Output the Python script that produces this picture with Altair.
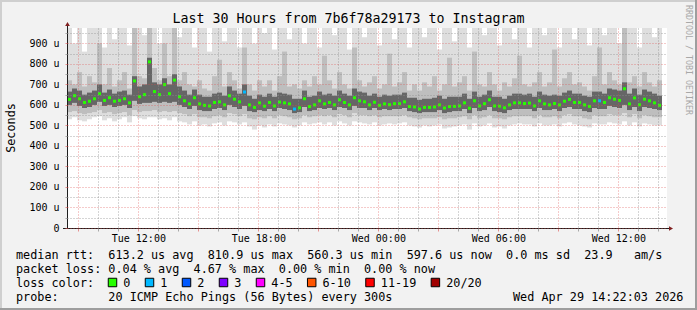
import altair as alt
import pandas as pd
from datetime import datetime, timedelta, timezone

# ---------------- data (values in microseconds, one entry per 15-minute step) ----------------
median_us = [627, 645, 630, 612, 618, 630, 655, 622, 635, 618,
             622, 630, 610, 717, 640, 650, 810, 665, 650, 699,
             655, 721, 640, 620, 605, 635, 605, 598, 595, 612,
             615, 600, 645, 628, 615, 663, 600, 588, 610, 594,
             612, 595, 614, 610, 605, 580, 586, 630, 592, 600,
             620, 605, 612, 600, 625, 612, 600, 635, 620, 615,
             600, 613, 598, 605, 601, 606, 606, 615, 592, 590,
             580, 588, 588, 590, 600, 585, 592, 593, 595, 610,
             584, 620, 595, 606, 625, 595, 594, 586, 600, 610,
             610, 607, 609, 595, 620, 605, 600, 607, 600, 618,
             627, 612, 612, 600, 593, 620, 620, 612, 635, 628,
             622, 679, 605, 634, 601, 628, 620, 610, 598]

max_us = [975, 900, 975, 860, 975, 975, 975, 880, 975, 920,
          975, 975, 890, 975, 975, 940, 975, 975, 900, 975,
          975, 975, 930, 975, 975, 880, 975, 975, 860, 975,
          975, 910, 975, 975, 880, 975, 975, 900, 975, 950,
          975, 870, 975, 975, 920, 975, 975, 900, 975, 975,
          880, 975, 975, 940, 975, 975, 870, 975, 975, 930,
          975, 975, 890, 975, 975, 920, 975, 975, 880, 975,
          975, 930, 975, 975, 870, 975, 975, 910, 975, 975,
          880, 975, 975, 940, 975, 975, 890, 975, 975, 920,
          975, 975, 880, 975, 975, 940, 975, 975, 880, 975,
          975, 920, 975, 975, 890, 975, 975, 940, 975, 975,
          900, 975, 975, 975, 880, 975, 975, 930, 975]

upper_mid_us = [720, 700, 760, 690, 740, 710, 900, 700, 780, 690,
                720, 760, 680, 975, 740, 730, 975, 780, 720, 900,
                740, 975, 720, 760, 700, 690, 720, 680, 670, 740,
                820, 690, 760, 720, 680, 880, 700, 670, 720, 690,
                720, 670, 740, 860, 690, 700, 680, 720, 690, 740,
                700, 840, 720, 680, 760, 700, 680, 880, 720, 690,
                710, 740, 680, 700, 850, 690, 710, 760, 670, 700,
                670, 710, 690, 740, 670, 700, 830, 690, 710, 740,
                670, 860, 700, 690, 760, 700, 670, 710, 690, 730,
                840, 700, 690, 710, 760, 690, 710, 870, 690, 730,
                760, 700, 710, 690, 670, 740, 880, 700, 760, 720,
                700, 975, 710, 740, 690, 760, 710, 690, 720]

upper_core_us = [665, 680, 670, 650, 660, 670, 700, 660, 675, 655,
                 665, 670, 650, 740, 690, 700, 830, 710, 700, 730,
                 700, 750, 690, 670, 650, 675, 650, 640, 640, 655,
                 660, 645, 690, 670, 655, 700, 645, 630, 650, 640,
                 655, 640, 660, 655, 650, 630, 630, 670, 640, 645,
                 665, 650, 655, 645, 670, 655, 645, 680, 665, 660,
                 645, 655, 640, 650, 645, 650, 650, 660, 635, 635,
                 625, 630, 630, 635, 645, 630, 640, 640, 640, 655,
                 630, 665, 640, 650, 670, 640, 640, 630, 645, 655,
                 655, 650, 655, 640, 665, 650, 645, 650, 645, 660,
                 670, 655, 655, 645, 640, 665, 665, 655, 680, 675,
                 670, 710, 655, 680, 650, 675, 665, 655, 645]

lower_core_us = [600, 610, 595, 585, 590, 600, 615, 595, 600, 590,
                 595, 600, 585, 620, 605, 610, 610, 615, 610, 615,
                 610, 615, 600, 590, 580, 595, 575, 570, 570, 580,
                 585, 575, 600, 590, 580, 595, 570, 565, 575, 570,
                 580, 570, 585, 580, 575, 560, 565, 590, 570, 575,
                 585, 580, 585, 575, 590, 585, 575, 595, 585, 585,
                 575, 585, 575, 580, 575, 580, 580, 585, 570, 565,
                 560, 565, 565, 565, 575, 560, 565, 570, 570, 580,
                 560, 585, 570, 575, 590, 570, 565, 560, 575, 580,
                 580, 580, 580, 570, 585, 575, 575, 580, 570, 585,
                 590, 580, 580, 570, 565, 585, 580, 580, 595, 590,
                 585, 600, 575, 590, 570, 590, 585, 580, 575]

lower_mid_us = [565, 570, 560, 555, 560, 565, 575, 560, 565, 555,
                560, 565, 550, 575, 565, 570, 570, 575, 565, 570,
                565, 570, 560, 555, 545, 555, 540, 540, 535, 545,
                550, 540, 560, 555, 545, 555, 535, 530, 540, 535,
                545, 535, 550, 545, 540, 530, 535, 550, 540, 545,
                550, 545, 550, 540, 555, 550, 540, 560, 550, 550,
                545, 550, 540, 545, 545, 545, 545, 550, 540, 535,
                530, 535, 535, 535, 540, 530, 535, 535, 540, 545,
                530, 550, 535, 540, 550, 535, 535, 530, 540, 545,
                545, 545, 545, 535, 550, 540, 540, 545, 535, 550,
                555, 545, 545, 535, 530, 550, 545, 545, 555, 550,
                550, 560, 540, 555, 535, 550, 545, 540, 540]

min_us = [530, 540, 525, 520, 530, 540, 545, 525, 535, 520,
          530, 540, 515, 545, 535, 530, 540, 540, 530, 535,
          525, 540, 520, 515, 505, 520, 500, 505, 495, 510,
          515, 500, 520, 515, 505, 515, 495, 480, 500, 490,
          505, 495, 510, 505, 500, 490, 500, 515, 505, 510,
          515, 505, 515, 500, 520, 510, 500, 520, 515, 510,
          505, 515, 500, 505, 510, 505, 510, 515, 500, 495,
          490, 500, 495, 500, 505, 485, 490, 495, 500, 505,
          480, 510, 495, 500, 510, 490, 495, 485, 500, 505,
          510, 505, 505, 495, 510, 500, 500, 505, 495, 510,
          515, 505, 500, 495, 490, 510, 505, 505, 515, 510,
          505, 520, 500, 515, 495, 510, 505, 500, 500]

# steps where one of the 20 pings was lost
loss_steps = {35: "1", 45: "1", 106: "1"}

loss_labels = ["0", "1", "2", "3", "4-5", "6-10", "11-19", "20/20"]
loss_colors = ["#26ff00", "#00b8ff", "#0059ff", "#7e00ff", "#ff00ff", "#ff5500", "#ff0000", "#a00000"]

title_text = "Last 30 Hours from 7b6f78a29173 to Instagram"
stats_rtt = "median rtt:  613.2 us avg  810.9 us max  560.3 us min  597.6 us now  0.0 ms sd  23.9   am/s"
stats_loss = "packet loss: 0.04 % avg  4.67 % max  0.00 % min  0.00 % now"
probe_text = "probe:       20 ICMP Echo Pings (56 Bytes) every 300s"
stamp_text = "Wed Apr 29 14:22:03 2026"
y_title = "Seconds"
watermark = "RRDTOOL / TOBI OETIKER"

# ---------------- build table ----------------
UTC = timezone.utc
START = datetime(2026, 4, 28, 8, 26, tzinfo=UTC)
STEP = timedelta(minutes=15)


def ms(d):
    return int(d.timestamp() * 1000)


n = len(median_us)
df = pd.DataFrame({
    "t0": [ms(START + i * STEP) for i in range(n)],
    "t1": [ms(START + (i + 1) * STEP) for i in range(n)],
    "tm": [ms(START + i * STEP + STEP / 2) for i in range(n)],
    "med": median_us,
    "mx": max_us,
    "umid": upper_mid_us,
    "ucore": upper_core_us,
    "lcore": lower_core_us,
    "lmid": lower_mid_us,
    "mn": min_us,
    "loss": [loss_steps.get(i, "0") for i in range(n)],
})

hour_ticks = [ms(datetime(2026, 4, 28, 9, tzinfo=UTC) + timedelta(hours=h)) for h in range(30)]
y_ticks = list(range(0, 951, 50))

MONO = "DejaVu Sans Mono"
MAJ = "rgba(222,79,79,0.6)"
MINC = "rgba(143,143,143,0.75)"
AXIS = "#1f1f1f"
ARROW = "#801f1f"

x_scale = alt.Scale(type="utc", domain=[ms(START), ms(START + timedelta(hours=30))])
y_scale = alt.Scale(domain=[0, 975], nice=False, zero=True)

x_cond = {"condition": {"test": "utchours(datum.value) % 3 === 0", "value": MAJ}, "value": MINC}
y_cond = {"condition": {"test": "datum.value % 100 === 0", "value": MAJ}, "value": MINC}

x_axis = alt.Axis(
    values=hour_ticks,
    labelExpr="utchours(datum.value) % 6 === 0 ? utcFormat(datum.value, '%a %H:%M') : ''",
    title=None, domain=False, grid=True, gridColor=x_cond, gridDash=[1, 2], gridWidth=1,
    ticks=True, tickSize=3, tickColor=x_cond, labelFont=MONO, labelFontSize=10,
    labelColor="#000000", labelPadding=2, labelOverlap=False, labelFlush=False, labelAngle=0,
    zindex=1,
)
y_axis = alt.Axis(
    values=y_ticks,
    labelExpr="datum.value % 100 === 0 ? (datum.value === 0 ? '0\u00a0\u00a0' : datum.value + '\u00a0u') : ''",
    title=None, domain=False, grid=True, gridColor=y_cond, gridDash=[1, 2], gridWidth=1,
    ticks=True, tickSize=2, tickColor=y_cond, labelFont=MONO, labelFontSize=10,
    labelColor="#000000", labelPadding=6, labelOverlap=False, labelFlush=False,
    zindex=1,
)

base = alt.Chart(df)


def smoke(lo, hi, color):
    return base.mark_rect(color=color, clip=True).encode(
        x=alt.X("t0:T", scale=x_scale, axis=x_axis),
        x2="t1:T",
        y=alt.Y(f"{lo}:Q", scale=y_scale, axis=y_axis),
        y2=f"{hi}:Q",
    )


smoke_outer = smoke("mn", "mx", "#dedede")
smoke_mid = smoke("lmid", "umid", "#bebebe")
smoke_core = smoke("lcore", "ucore", "#666666")

median_marks = base.mark_tick(orient="horizontal", size=3, thickness=3, opacity=1, clip=True).encode(
    x=alt.X("tm:T", scale=x_scale, axis=x_axis),
    y=alt.Y("med:Q", scale=y_scale, axis=y_axis),
    color=alt.Color("loss:N", scale=alt.Scale(domain=loss_labels, range=loss_colors), legend=None),
)

# ---------------- decorations (pixel layout relative to plot origin at 67,28) ----------------
one = pd.DataFrame({"k": [0]})
OX, OY = 67, 28


def text(s, ax, ay, size, align="left", angle=None, color="#000000"):
    kw = dict(text=s.replace(" ", "\u00a0"), font=MONO, fontSize=size, align=align,
              baseline="middle", color=color)
    if angle:
        kw["angle"] = angle
    return alt.Chart(one).mark_text(**kw).encode(x=alt.value(ax - OX), y=alt.value(ay - OY))


def hline(ax1, ax2, ay, color, w=1):
    return alt.Chart(one).mark_rule(color=color, strokeWidth=w).encode(
        x=alt.value(ax1 - OX), x2=alt.value(ax2 - OX), y=alt.value(ay - OY))


def vline(ax, ay1, ay2, color, w=1):
    return alt.Chart(one).mark_rule(color=color, strokeWidth=w).encode(
        x=alt.value(ax - OX), y=alt.value(ay1 - OY), y2=alt.value(ay2 - OY))


def marker(shape, ax, ay, color, size, stroke=None):
    kw = dict(shape=shape, filled=True, fill=color, size=size, opacity=1)
    if stroke:
        kw.update(stroke=stroke, strokeWidth=1)
    else:
        kw.update(strokeWidth=0)
    return alt.Chart(one).mark_point(**kw).encode(x=alt.value(ax - OX), y=alt.value(ay - OY))


deco = [
    # 3D frame
    hline(0, 697, 1, "#cfcfcf", 2),
    vline(1, 0, 310, "#cfcfcf", 2),
    hline(0, 697, 309, "#9e9e9e", 2),
    vline(696, 0, 310, "#9e9e9e", 2),
    # axes and arrows
    vline(67.5, 228, 24, AXIS, 1),
    hline(63, 671, 228.5, AXIS, 1),
    marker("triangle-up", 67.5, 24, ARROW, 22),
    marker("triangle-right", 671, 228.5, ARROW, 22),
    # texts
    text(title_text, 348.5, 19, 13.3, align="center"),
    text(y_title, 11, 128, 11.8, align="center", angle=270),
    text(watermark, 687.5, 5, 8.3, align="left", angle=90, color="#a8a8a8"),
    text(stats_rtt, 16, 254.5, 11.8),
    text(stats_loss, 16, 268.5, 11.8),
    text("loss color:", 16, 282.5, 11.8),
    text(probe_text, 16, 296.5, 11.8),
    text(stamp_text, 513, 296.5, 11.8),
]

# loss colour legend (boxes and labels advance by box + label width)
bx = 108.3
for lab, col in zip(loss_labels, loss_colors):
    deco.append(marker("square", bx + 4.2, 282.5, col, 72, stroke="#000000"))
    deco.append(text(lab, bx + 15, 282.5, 11.8))
    bx += 37 + 7.1 * (len(lab) - 1)

chart = alt.layer(smoke_outer, smoke_mid, smoke_core, median_marks, *deco).properties(
    width=600,
    height=200,
    autosize=alt.AutoSizeParams(type="none"),
    padding={"left": 67, "top": 28, "right": 30, "bottom": 82},
    background="#f2f2f2",
).configure_view(stroke=None, fill="#ffffff")

chart.save("out.html", embed_options={"renderer": "svg", "actions": False})
